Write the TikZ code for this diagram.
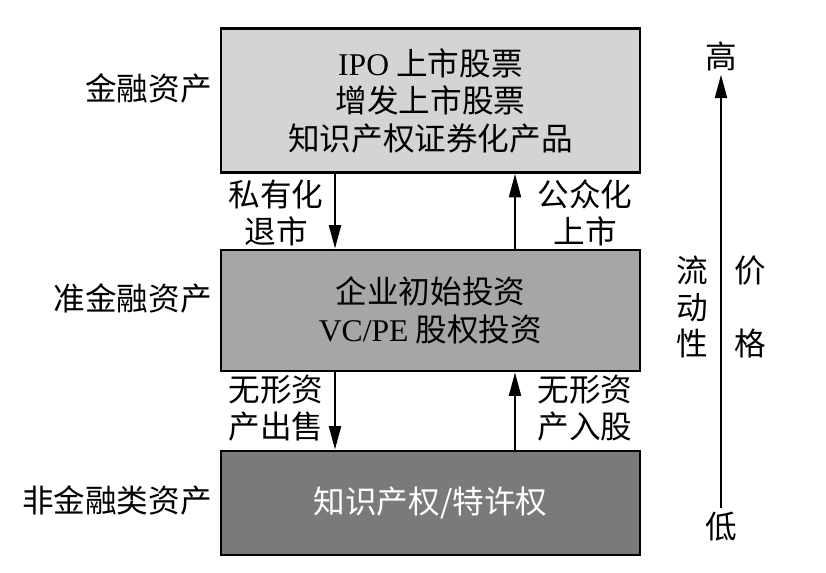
\documentclass[tikz,border=0pt]{standalone}
\usepackage{fontspec}
\setmainfont{Liberation Serif}
\newfontfamily\cjk{Noto Sans CJK SC}
\usetikzlibrary{arrows.meta}

\begin{document}
\begin{tikzpicture}[x=0.03cm,y=-0.03cm,>={Triangle[length=0.7cm,width=0.36cm]},
    every node/.style={font=\cjk\fontsize{27}{32}\selectfont},
    layer/.style={draw,line width=2.5pt,minimum width=12.57cm,inner sep=0pt,align=center},
    flow/.style={->,line width=1.6pt},
    side/.style={align=center}]
    \useasboundingbox (0,0) rectangle (826,573);

    % three layers of assets
    \node[layer,fill=black!17,minimum height=4.32cm] (fin) at (430.5,100.5)
        {{\rmfamily IPO} 上市股票\\增发上市股票\\知识产权证券化产品};
    \node[layer,fill=black!35,minimum height=3.63cm] (quasi) at (430.5,310.5)
        {企业初始投资\\{\rmfamily VC/PE} 股权投资};
    \node[layer,fill=black!52,minimum height=3.12cm,text=white] (nonfin) at (430.5,503)
        {知识产权/特许权};

    \node[anchor=east] (lfin) at (216,88) {金融资产};
    \node[anchor=east] (lquasi) at (216,298) {准金融资产};
    \node[anchor=east] (lnonfin) at (216,500) {非金融类资产};

    % transitions
    \coordinate (dn) at (335,0);
    \coordinate (up) at (515,0);
    \draw[flow] (fin.south -| dn) -- (quasi.north -| dn);
    \draw[flow] (quasi.north -| up) -- (fin.south -| up);
    \draw[flow] (quasi.south -| dn) -- (nonfin.north -| dn);
    \draw[flow] (nonfin.north -| up) -- (quasi.south -| up);

    \node[side] (priv) at (276,213) {私有化\\退市};
    \node[side] (pub) at (585,213) {公众化\\上市};
    \node[side] (sell) at (276,408) {无形资\\产出售};
    \node[side] (share) at (585,408) {无形资\\产入股};

    % liquidity / price scale
    \node (high) at (721,56) {高};
    \node (low) at (721,527) {低};
    \draw[flow] (low.north) -- (high.south);
    \node[align=center,font=\cjk\fontsize{27}{31.5}\selectfont] (liq) at (692,307) {流\\动\\性};
    \node[align=center,font=\cjk\fontsize{27}{31.5}\selectfont] (price) at (750,307) {价\\~\\格};
\end{tikzpicture}
\end{document}
